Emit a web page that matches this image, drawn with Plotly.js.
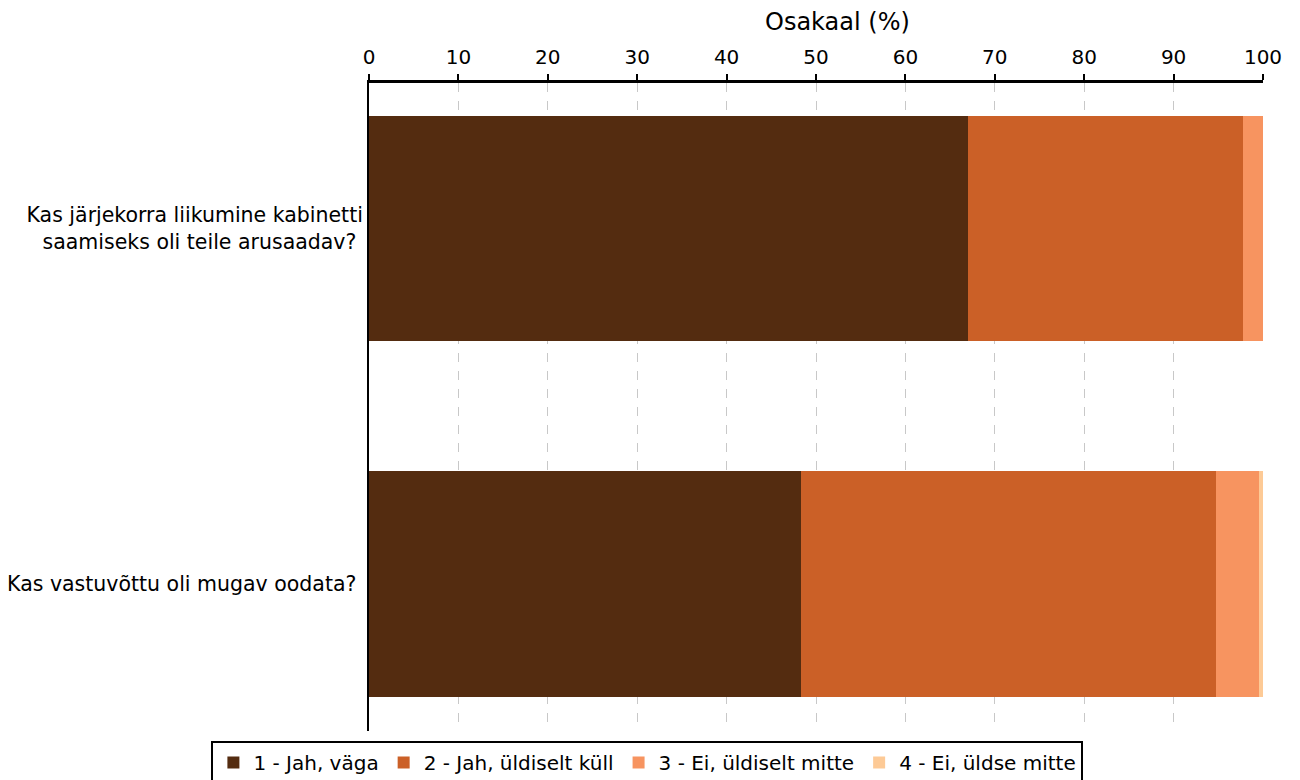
<!DOCTYPE html>
<html>
<head>
<meta charset="utf-8">
<script src="https://cdn.plot.ly/plotly-3.0.1.min.js"></script>
<style>html,body{margin:0;padding:0;background:#fff;}#chart{width:1300px;height:780px;}</style>
</head>
<body>
<div id="chart"></div>
<script>
const categories = [
  "Kas järjekorra liikumine kabinetti<br>saamiseks oli teile arusaadav?",
  "Kas vastuvõttu oli mugav oodata?"
];
const seriesNames = ["1 - Jah, väga", "2 - Jah, üldiselt küll", "3 - Ei, üldiselt mitte", "4 - Ei, üldse mitte"];
const s1 = [67.0, 48.3];
const s2 = [30.8, 46.4];
const s3 = [2.2, 4.85];
const s4 = [0.0, 0.45];
const colors = ["#542c10", "#cb6027", "#f79460", "#fdca96"];
const axisTitle = "Osakaal (%)";

const values = [s1, s2, s3, s4];
const traces = values.map((v, i) => ({
  type: "bar",
  orientation: "h",
  name: seriesNames[i],
  x: v,
  y: categories,
  marker: {color: colors[i], line: {width: 0}},
  hoverinfo: "x+name"
}));

const layout = {
  width: 1300,
  height: 780,
  barmode: "stack",
  bargap: 0.364,
  font: {family: "DejaVu Sans, sans-serif", size: 16, color: "#000"},
  margin: {l: 369, r: 37, t: 83, b: 49},
  paper_bgcolor: "#fff",
  plot_bgcolor: "#fff",
  xaxis: {
    side: "top",
    range: [0, 100],
    dtick: 10,
    tick0: 0,
    ticks: "outside",
    ticklen: 6,
    tickwidth: 2,
    tickcolor: "#000",
    ticklabelstandoff: 2,
    showline: true,
    linecolor: "#000",
    linewidth: 3,
    showgrid: true,
    gridcolor: "#c8c8c8",
    griddash: "dash",
    gridwidth: 1,
    zeroline: false,
    tickfont: {size: 20}
  },
  yaxis: {
    range: [1.415, -0.41],
    showline: true,
    linecolor: "#000",
    linewidth: 2,
    ticks: "",
    showgrid: false,
    zeroline: false,
    tickfont: {size: 20.5},
    ticksuffix: " "
  },
  annotations: [{
    text: axisTitle,
    xref: "paper",
    yref: "paper",
    x: 0.5246,
    y: (731 - 22) / 648,
    xanchor: "center",
    yanchor: "middle",
    showarrow: false,
    font: {size: 24}
  }],
  legend: {
    orientation: "h",
    xref: "container",
    yref: "container",
    x: 0.498,
    xanchor: "center",
    y: 1 - 741 / 780,
    yanchor: "top",
    bordercolor: "#000",
    borderwidth: 2,
    font: {size: 20},
    traceorder: "normal"
  },
  showlegend: true
};

Plotly.newPlot("chart", traces, layout, {displayModeBar: false});
</script>
</body>
</html>
